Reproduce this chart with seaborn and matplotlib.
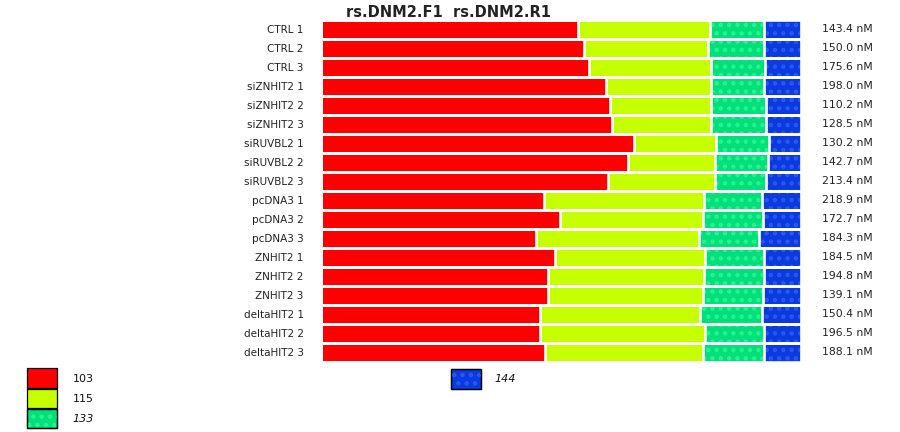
import numpy as np
import pandas as pd
import matplotlib
matplotlib.use("Agg")
import matplotlib.pyplot as plt
import matplotlib.patches as mpatches
import matplotlib.transforms as mtrans
import seaborn as sns

samples = ["CTRL 1", "CTRL 2", "CTRL 3",
           "siZNHIT2 1", "siZNHIT2 2", "siZNHIT2 3",
           "siRUVBL2 1", "siRUVBL2 2", "siRUVBL2 3",
           "pcDNA3 1", "pcDNA3 2", "pcDNA3 3",
           "ZNHIT2 1", "ZNHIT2 2", "ZNHIT2 3",
           "deltaHIT2 1", "deltaHIT2 2", "deltaHIT2 3"]
seg_103 = [53.6, 54.8, 55.9, 59.5, 60.2, 60.7, 65.3, 64.0, 59.9,
           46.6, 49.9, 44.8, 48.7, 47.4, 47.4, 45.7, 45.6, 46.7]
seg_115 = [27.4, 25.8, 25.4, 21.8, 21.1, 20.7, 17.0, 18.1, 22.1,
           33.3, 29.7, 34.0, 31.4, 32.5, 32.2, 33.3, 34.5, 32.9]
seg_133 = [11.3, 11.8, 11.2, 11.0, 11.5, 11.5, 11.0, 11.1, 10.8,
           11.9, 12.4, 12.5, 12.1, 12.3, 12.4, 12.8, 12.1, 12.6]
seg_144 = [7.7, 7.6, 7.5, 7.7, 7.2, 7.2, 6.7, 6.8, 7.2,
           8.2, 8.0, 8.7, 7.8, 7.8, 8.0, 8.2, 7.8, 7.8]
concentrations = ["143.4 nM", "150.0 nM", "175.6 nM", "198.0 nM", "110.2 nM",
                  "128.5 nM", "130.2 nM", "142.7 nM", "213.4 nM", "218.9 nM",
                  "172.7 nM", "184.3 nM", "184.5 nM", "194.8 nM", "139.1 nM",
                  "150.4 nM", "196.5 nM", "188.1 nM"]
segment_names = ["103", "115", "133", "144"]
title = "rs.DNM2.F1  rs.DNM2.R1"

# styles
face = ["#ff0000", "#c6ff00", "#00e07a", "#0a3ae0"]
hatch_col = [None, None, "#28f28e", "#2a58ee"]
hatches = [None, None, "..", ".."]

sns.set_style("white")
plt.rcParams["font.family"] = ["DejaVu Sans"]
plt.rcParams["hatch.linewidth"] = 2.0

W, H = 900, 432
fig = plt.figure(figsize=(9, 4.32), dpi=100)
left_px, right_px = 320.5, 801
top_px, bot_px = 19.7, 361.9
ax = fig.add_axes([left_px / W, 1 - bot_px / H, (right_px - left_px) / W, (bot_px - top_px) / H])

df = pd.DataFrame({"sample": samples, "103": seg_103, "115": seg_115,
                   "133": seg_133, "144": seg_144})
tot = df[segment_names].sum(axis=1)
for s in segment_names:
    df[s] = df[s] / tot * 100
cum = df[segment_names].cumsum(axis=1)

# draw cumulative bars from the widest to narrowest so each segment shows
for i in reversed(range(4)):
    name = segment_names[i]
    kw = dict(linewidth=0)
    if hatches[i]:
        kw.update(hatch=hatches[i], edgecolor=hatch_col[i])
    else:
        kw.update(edgecolor=face[i])
    sns.barplot(x=cum[name], y=df["sample"], color=face[i], saturation=1,
                width=1.0, orient="h", ax=ax, errorbar=None, **kw)

# white separators
for i in reversed(range(4)):
    name = segment_names[i]
    sns.barplot(x=cum[name], y=df["sample"], color="white", saturation=1,
                width=1.0, orient="h", ax=ax, errorbar=None, fill=False,
                linewidth=1.9)

ax.set_xlim(0, 100)
ax.set_ylim(len(samples) - 0.5, -0.5)
ax.set_xlabel("")
ax.set_ylabel("")
ax.set_xticks([])
for sp in ax.spines.values():
    sp.set_visible(False)
ax.tick_params(axis="y", length=0, pad=12, labelsize=7.5, labelcolor="#222222")

# right-hand concentration labels
tr = mtrans.blended_transform_factory(fig.transFigure, ax.transData)
for i, c in enumerate(concentrations):
    ax.text(822 / W, i, c, transform=tr, ha="left", va="center",
            fontsize=7.8, color="#222222")

# title
fig.text(449 / W, 1 - 12.5 / H, title, ha="center", va="center",
         fontsize=10.5, fontweight="bold", color="#222222")

# legend
def box(x0, y0, x1, y1, i):
    r = mpatches.Rectangle((x0 / W, 1 - y1 / H), (x1 - x0) / W, (y1 - y0) / H,
                           transform=fig.transFigure, facecolor=face[i],
                           edgecolor="black", linewidth=0.9)
    fig.add_artist(r)
    if hatches[i]:
        r2 = mpatches.Rectangle((x0 / W, 1 - y1 / H), (x1 - x0) / W, (y1 - y0) / H,
                                transform=fig.transFigure, facecolor="none",
                                edgecolor=hatch_col[i], linewidth=0, hatch=hatches[i])
        fig.add_artist(r2)
        r3 = mpatches.Rectangle((x0 / W, 1 - y1 / H), (x1 - x0) / W, (y1 - y0) / H,
                                transform=fig.transFigure, facecolor="none",
                                edgecolor="black", linewidth=0.9)
        fig.add_artist(r3)

box(27.3, 368, 57.3, 388, 0)
box(27.3, 388.7, 57.3, 407.5, 1)
box(27.3, 408.5, 57.3, 428, 2)
box(450.5, 368.5, 480.7, 389, 3)
fig.text(73 / W, 1 - 378.5 / H, segment_names[0], ha="left", va="center", fontsize=8, color="#111111")
fig.text(73 / W, 1 - 398.5 / H, segment_names[1], ha="left", va="center", fontsize=8, color="#111111")
fig.text(72 / W, 1 - 418.5 / H, segment_names[2], ha="left", va="center", fontsize=8,
         style="italic", color="#111111")
fig.text(494 / W, 1 - 379 / H, segment_names[3], ha="left", va="center", fontsize=8,
         style="italic", color="#111111")

fig.savefig("out.png", dpi=100)
